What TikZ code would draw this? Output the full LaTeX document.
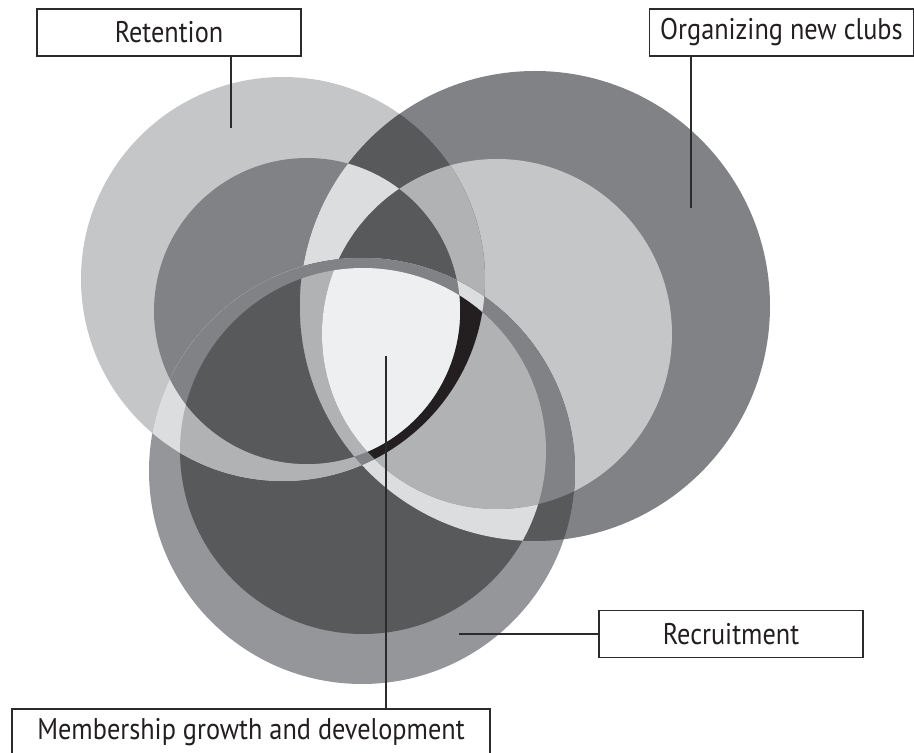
\documentclass[tikz,border=0pt]{standalone}
\usepackage{fontspec}
\setmainfont[FakeStretch=0.88]{PT Sans}

\definecolor{l1}{HTML}{EEEFF0}
\definecolor{l2}{HTML}{DCDDDF}
\definecolor{l3}{HTML}{C5C6C8}
\definecolor{m1}{HTML}{B1B2B4}
\definecolor{m2}{HTML}{95969A}
\definecolor{m3}{HTML}{808285}
\definecolor{dk}{HTML}{58595B}
\definecolor{bk}{HTML}{231F20}
\definecolor{ink}{HTML}{2B2A2C}

\def\ra{(283,279) circle (202)}
\def\rb{(307,311) circle (153)}
\def\oa{(535,306) circle (235)}
\def\ob{(497,334) circle (175)}
\def\ca{(362,471) circle (213)}
\def\cb{(363,451) circle (183)}

\begin{document}
\begin{tikzpicture}[x=0.02cm, y=-0.02cm,
    tag/.style={draw=ink, line width=0.8pt, fill=white, text=bk, inner sep=0pt,
                minimum width=5.28cm, minimum height=0.94cm,
                font=\fontsize{17}{20}\selectfont},
    lead/.style={draw=ink, line width=0.8pt}]
    \useasboundingbox (0,0) rectangle (914,753);

    \fill[l3] \ra;
    \fill[m3] \rb;
    \fill[m3] \oa;
    \fill[l3] \ob;
    \fill[m2] \ca;
    \fill[dk] \cb;

    \foreach \pa/\pb/\col in {\ra/\oa/dk, \ra/\ob/m1, \rb/\oa/l2, \rb/\ob/dk,
                              \ra/\ca/l2, \ra/\cb/m1, \rb/\ca/m3, \rb/\cb/dk,
                              \oa/\ca/dk, \oa/\cb/l2, \ob/\ca/m3, \ob/\cb/m1}
        {\begin{scope}\clip \pa; \fill[\col] \pb; \end{scope}}

    \foreach \pa/\pb/\pc/\col in {\ra/\oa/\ca/m3, \ra/\oa/\cb/m3, \ra/\ob/\ca/l2,
                                  \rb/\oa/\ca/m3, \ra/\ob/\cb/bk, \rb/\oa/\cb/m1,
                                  \rb/\ob/\ca/m3, \rb/\ob/\cb/l1}
        {\begin{scope}\clip \pa; \clip \pb; \fill[\col] \pc; \end{scope}}

    \node[tag] (ret) at (169,32.5) {Retention};
    \node[tag] (org) at (781.5,32.5) {Organizing new clubs};
    \node[tag] (rec) at (731,634) {Recruitment};
    \node[tag, minimum width=9.56cm] (mem) at (251,732.5) {Membership growth and development};

    \coordinate (rp) at (231,128);
    \coordinate (op) at (691,208);
    \coordinate (cp) at (459,634);
    \coordinate (mp) at (386,356);

    \draw[lead] (rp) -- (rp |- ret.south);
    \draw[lead] (op) -- (op |- org.south);
    \draw[lead] (cp) -- (rec.west);
    \draw[lead] (mp) -- (mp |- mem.north);
\end{tikzpicture}
\end{document}
